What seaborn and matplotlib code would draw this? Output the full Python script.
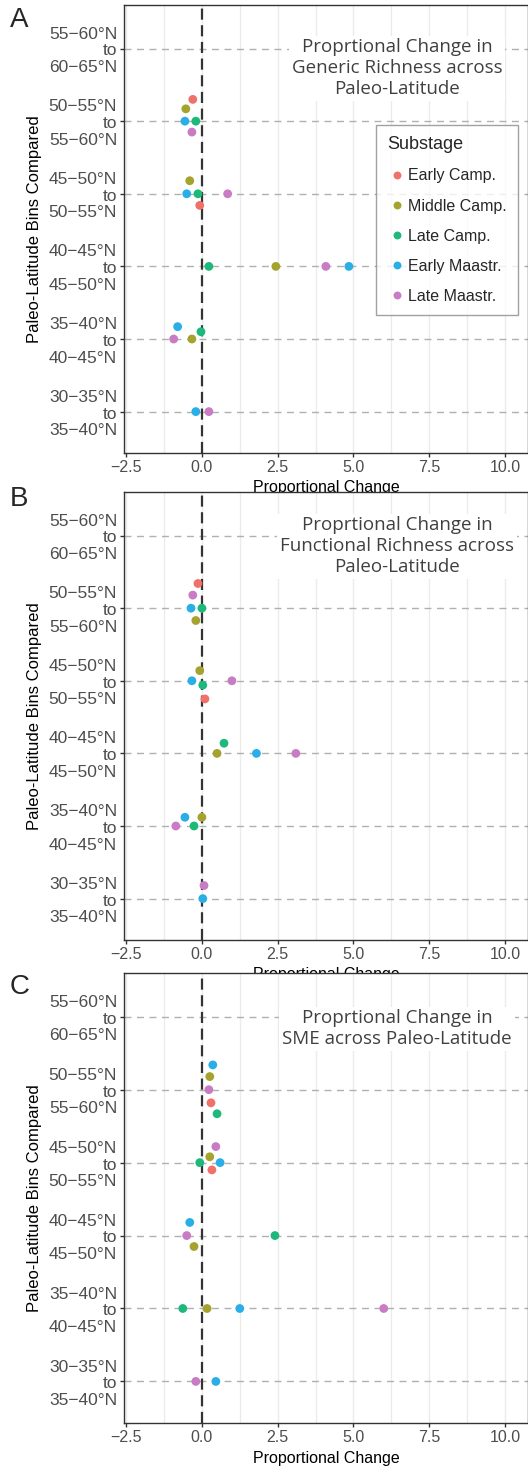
import matplotlib
matplotlib.use("Agg")
import matplotlib.pyplot as plt
import pandas as pd
import seaborn as sns

sns.set_theme(style="white")
plt.rcParams['font.family'] = ['Liberation Sans', 'DejaVu Sans']

# latitude bin comparisons (top to bottom)
bins = ["55\u221260°N\nto\n60\u221265°N", "50\u221255°N\nto\n55\u221260°N", "45\u221250°N\nto\n50\u221255°N",
        "40\u221245°N\nto\n45\u221250°N", "35\u221240°N\nto\n40\u221245°N", "30\u221235°N\nto\n35\u221240°N"]
substages = ["Early Camp.", "Middle Camp.", "Late Camp.", "Early Maastr.", "Late Maastr."]
colors = ["#EF716A", "#A5A22E", "#1DB97B", "#2AAEE6", "#C97BC4"]

# panel A: generic richness  (bin index, substage, change, vertical jitter)
gen_bin = [1, 1, 1, 1, 1, 2, 2, 2, 2, 2, 3, 3, 3, 3, 4, 4, 4, 4, 5, 5]
gen_stage = ["Early Camp.", "Middle Camp.", "Early Maastr.", "Late Camp.", "Late Maastr.",
             "Middle Camp.", "Early Maastr.", "Late Camp.", "Late Maastr.", "Early Camp.",
             "Late Camp.", "Middle Camp.", "Late Maastr.", "Early Maastr.",
             "Early Maastr.", "Late Camp.", "Late Maastr.", "Middle Camp.",
             "Early Maastr.", "Late Maastr."]
gen_change = [-0.3, -0.53, -0.56, -0.2, -0.33, -0.4, -0.5, -0.13, 0.85, -0.07,
              0.23, 2.44, 4.09, 4.85, -0.8, -0.03, -0.93, -0.33, -0.2, 0.23]
gen_jit = [-0.3, -0.17, 0, 0, 0.15, -0.18, 0, 0, 0, 0.16,
           0, 0, 0, 0, -0.17, -0.1, 0, 0, 0, 0]

# panel B: functional richness
fun_bin = [1, 1, 1, 1, 1, 2, 2, 2, 2, 2, 3, 3, 3, 3, 4, 4, 4, 4, 5, 5]
fun_stage = ["Early Camp.", "Late Maastr.", "Early Maastr.", "Late Camp.", "Middle Camp.",
             "Middle Camp.", "Early Maastr.", "Late Camp.", "Late Maastr.", "Early Camp.",
             "Late Camp.", "Middle Camp.", "Early Maastr.", "Late Maastr.",
             "Early Maastr.", "Middle Camp.", "Late Maastr.", "Late Camp.",
             "Late Maastr.", "Early Maastr."]
fun_change = [-0.13, -0.3, -0.36, 0.0, -0.2, -0.07, -0.33, 0.03, 0.99, 0.1,
              0.73, 0.5, 1.8, 3.1, -0.56, 0.0, -0.86, -0.26, 0.07, 0.03]
fun_jit = [-0.34, -0.18, 0, 0, 0.17, -0.14, 0, 0.06, 0, 0.25,
           -0.14, 0, 0, 0, -0.12, -0.12, 0, 0, -0.18, 0]

# panel C: SME
sme_bin = [1, 1, 1, 1, 1, 2, 2, 2, 2, 2, 3, 3, 3, 3, 4, 4, 4, 4, 5, 5]
sme_stage = ["Early Maastr.", "Middle Camp.", "Late Maastr.", "Early Camp.", "Late Camp.",
             "Late Maastr.", "Middle Camp.", "Late Camp.", "Early Maastr.", "Early Camp.",
             "Early Maastr.", "Late Maastr.", "Late Camp.", "Middle Camp.",
             "Late Camp.", "Middle Camp.", "Early Maastr.", "Late Maastr.",
             "Late Maastr.", "Early Maastr."]
sme_change = [0.36, 0.26, 0.23, 0.3, 0.5, 0.46, 0.26, -0.07, 0.6, 0.33,
              -0.4, -0.5, 2.41, -0.26, -0.63, 0.17, 1.25, 6.0, -0.2, 0.46]
sme_jit = [-0.34, -0.18, 0, 0.18, 0.33, -0.22, -0.08, 0, 0, 0.1,
           -0.18, 0, 0, 0.15, 0, 0, 0, 0, 0, 0]

titles = ["Proprtional Change in\nGeneric Richness across\nPaleo-Latitude",
          "Proprtional Change in\nFunctional Richness across\nPaleo-Latitude",
          "Proprtional Change in\nSME across Paleo-Latitude"]
letters = ["A", "B", "C"]
xticks = [-2.5, 0.0, 2.5, 5.0, 7.5, 10.0]

panels = [(gen_bin, gen_stage, gen_change, gen_jit),
          (fun_bin, fun_stage, fun_change, fun_jit),
          (sme_bin, sme_stage, sme_change, sme_jit)]

W, H = 528, 1468
fig = plt.figure(figsize=(W / 100, H / 100), dpi=100)
# (top, bottom) in pixels
boxes = [(5, 453), (492, 940), (973, 1423)]
title_y = [0.859, 0.879, 0.876]
letter_y = [20, 499, 987]
palette = dict(zip(substages, colors))

for i, (b, s, c, j) in enumerate(panels):
    top, bot = boxes[i]
    ax = fig.add_axes([124 / W, 1 - bot / H, (W - 124) / W, (bot - top) / H])
    df = pd.DataFrame({"bin": b, "Substage": s, "change": c, "jit": j})
    df["y"] = df["bin"] + df["jit"]
    for k in range(len(bins)):
        ax.axhline(k, color="#b0b0b0", lw=1, ls=(0, (5, 4)), zorder=1)
    ax.axvline(0, color="#333333", lw=1.6, ls=(0, (5, 2.5)), zorder=2)
    sns.scatterplot(data=df, x="change", y="y", hue="Substage", hue_order=substages,
                    palette=palette, s=40, linewidth=0, ax=ax, zorder=3, legend=(i == 0))
    ax.set_xlim(-2.57, 10.76)
    ax.set_ylim(5.57, -0.6)
    ax.set_yticks(range(len(bins)))
    ax.set_yticklabels(bins, fontsize=12.5, color="#4d4d4d", linespacing=1.15)
    ax.set_xticks(xticks)
    ax.set_xticklabels([f"{t:.1f}".replace("-", "\u2212") for t in xticks], fontsize=11.5, color="#4d4d4d")
    ax.set_xticks([-1.25, 1.25, 3.75, 6.25, 8.75], minor=True)
    ax.grid(axis="x", which="both", color="#ebebeb", lw=1)
    ax.set_axisbelow(True)
    ax.tick_params(axis="both", which="major", length=3, width=1, color="#333333", pad=2, left=True, bottom=True)
    ax.tick_params(axis="x", which="minor", length=0)
    for sp in ax.spines.values():
        sp.set_color("#333333")
        sp.set_linewidth(1)
    ax.set_xlabel("Proportional Change", fontsize=11.5, color="black", labelpad=4)
    ax.set_ylabel("Paleo-Latitude Bins Compared", fontsize=12, color="black", labelpad=5)
    ax.text(0.676, title_y[i], titles[i], transform=ax.transAxes, ha="center", va="center",
            fontsize=13.5, color="#404040", family=["Open Sans", "DejaVu Sans"], linespacing=1.2,
            bbox=dict(facecolor="white", edgecolor="none", pad=2), zorder=4)
    if i == 0:
        leg = ax.legend(title="Substage", loc="upper left", bbox_to_anchor=(0.605, 0.75),
                        fontsize=11.5, title_fontsize=13, frameon=True, fancybox=False,
                        edgecolor="#8a8a8a", labelspacing=0.95, handletextpad=0.1,
                        markerscale=0.9, borderpad=0.7, handlelength=1.2)
        leg.get_frame().set_linewidth(1)
        leg._legend_box.align = "left"
    fig.text(10 / W, 1 - letter_y[i] / H, letters[i], fontsize=20, va="center", ha="left")

fig.savefig("out.png", dpi=100)
